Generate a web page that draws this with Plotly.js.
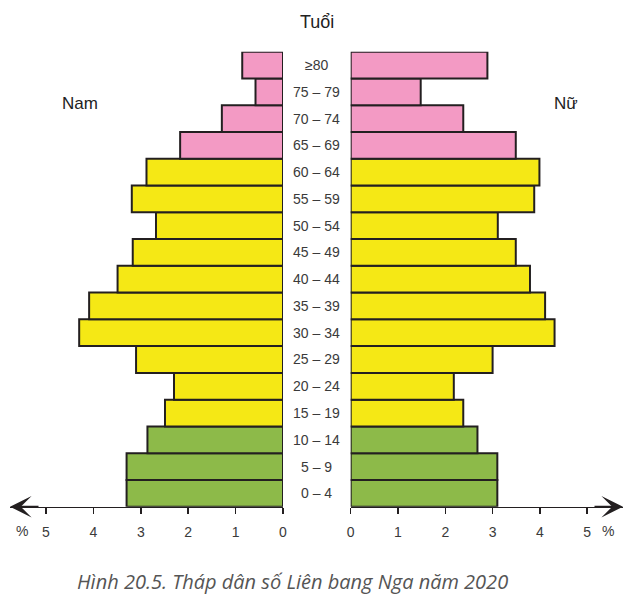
<!DOCTYPE html>
<html><head><meta charset="utf-8">
<script src="https://cdn.plot.ly/plotly-3.0.1.min.js"></script>
<style>html,body{margin:0;padding:0;background:#fff}</style>
</head><body><div id="chart" style="width:634px;height:610px"></div>
<script>
const ageGroups = ["0 – 4","5 – 9","10 – 14","15 – 19","20 – 24","25 – 29","30 – 34","35 – 39","40 – 44","45 – 49","50 – 54","55 – 59","60 – 64","65 – 69","70 – 74","75 – 79","≥80"];
const maleValues   = [3.30,3.30,2.86,2.49,2.30,3.10,4.30,4.09,3.49,3.17,2.68,3.19,2.88,2.17,1.29,0.58,0.86];
const femaleValues = [3.10,3.10,2.68,2.38,2.18,3.00,4.31,4.11,3.79,3.49,3.11,3.88,3.99,3.49,2.38,1.48,2.89];
const ageGroupType = ["young","young","young","adult","adult","adult","adult","adult","adult","adult","adult","adult","adult","old","old","old","old"];
const tickValues = [0,1,2,3,4,5];
const tickLabels = ["0","1","2","3","4","5"];

const groupColors = {young:"#8DBA49", adult:"#F5E815", old:"#F39AC4"};
const barColors = ageGroupType.map(g => groupColors[g]);

const W = 634, H = 610;
const px = v => v / W, py = v => 1 - v / H;

const barLine = {color:"#231f20", width:2};
const traces = [
  {type:"bar", orientation:"h", y:ageGroups, x:maleValues, xaxis:"x", yaxis:"y",
   marker:{color:barColors, line:barLine}, hoverinfo:"x+y", name:"Nam"},
  {type:"bar", orientation:"h", y:ageGroups, x:femaleValues, xaxis:"x2", yaxis:"y2",
   marker:{color:barColors, line:barLine}, hoverinfo:"x+y", name:"Nữ"}
];

const sans = "Liberation Sans, Arial, sans-serif";
const tickFont = {family:sans, size:14, color:"#3a3a3a"};
const axisCommon = {tickvals:tickValues, ticktext:tickLabels, ticks:"outside", ticklen:6, tickwidth:1.5,
  tickcolor:"#231f20", showline:true, linecolor:"#231f20", linewidth:1.5, showgrid:false, zeroline:false,
  tickfont:tickFont, ticklabelstandoff:6, fixedrange:true};

const yTop = 51.7, yBot = 506.7;
const leftZero = 283, leftTip = 10, rightZero = 350.7, rightTip = 623, unitL = 47.4, unitR = 47.3;

const annotations = ageGroups.map(a => ({
  text:a, x:px(316.5), xref:"paper", y:a, yref:"y", xanchor:"center", yanchor:"middle",
  showarrow:false, font:{family:sans, size:14, color:"#3a3a3a"}
}));
annotations.push(
  {text:"Tuổi", x:px(317), y:py(22), xref:"paper", yref:"paper", showarrow:false, xanchor:"center", yanchor:"middle",
   font:{family:sans, size:18, color:"#222"}},
  {text:"Nam", x:px(80), y:py(103), xref:"paper", yref:"paper", showarrow:false, xanchor:"center", yanchor:"middle",
   font:{family:sans, size:17, color:"#222"}},
  {text:"Nữ", x:px(566), y:py(103), xref:"paper", yref:"paper", showarrow:false, xanchor:"center", yanchor:"middle",
   font:{family:sans, size:17, color:"#222"}},
  {text:"%", x:px(22), y:py(531), xref:"paper", yref:"paper", showarrow:false, xanchor:"center", yanchor:"middle", font:tickFont},
  {text:"%", x:px(608), y:py(531), xref:"paper", yref:"paper", showarrow:false, xanchor:"center", yanchor:"middle", font:tickFont},
  {text:"<i>Hình 20.5. Tháp dân số Liên bang Nga năm 2020</i>", x:px(292), y:py(581), xref:"paper", yref:"paper",
   showarrow:false, xanchor:"center", yanchor:"middle",
   font:{family:"Open Sans, Noto Sans, sans-serif", size:20, color:"#555"}},
  {text:"", x:(leftZero-leftTip)/unitL, xref:"x", y:py(yBot), yref:"paper", ax:30, ay:0, showarrow:true,
   arrowhead:3, arrowsize:1.8, arrowwidth:2, arrowcolor:"#231f20", standoff:0},
  {text:"", x:(rightTip-rightZero)/unitR, xref:"x2", y:py(yBot), yref:"paper", ax:-30, ay:0, showarrow:true,
   arrowhead:3, arrowsize:1.8, arrowwidth:2, arrowcolor:"#231f20", standoff:0}
);

const layout = {
  width:W, height:H, margin:{l:0,r:0,t:0,b:0}, paper_bgcolor:"#fff", plot_bgcolor:"rgba(0,0,0,0)",
  showlegend:false, bargap:0,
  xaxis:Object.assign({}, axisCommon, {domain:[px(leftTip), px(leftZero)], range:[(leftZero-leftTip)/unitL, 0], anchor:"y"}),
  xaxis2:Object.assign({}, axisCommon, {domain:[px(rightZero), px(rightTip)], range:[0, (rightTip-rightZero)/unitR], anchor:"y2"}),
  yaxis:{domain:[py(yBot), py(yTop)], type:"category", categoryorder:"array", categoryarray:ageGroups, range:[-0.5,16.5],
    showticklabels:false, ticks:"", showgrid:false, zeroline:false, showline:false, anchor:"x", fixedrange:true},
  yaxis2:{domain:[py(yBot), py(yTop)], type:"category", categoryorder:"array", categoryarray:ageGroups, range:[-0.5,16.5],
    showticklabels:false, ticks:"", showgrid:false, zeroline:false, showline:false, anchor:"x2", fixedrange:true},
  annotations:annotations
};

Plotly.newPlot("chart", traces, layout, {displayModeBar:false, staticPlot:true});
</script></body></html>
